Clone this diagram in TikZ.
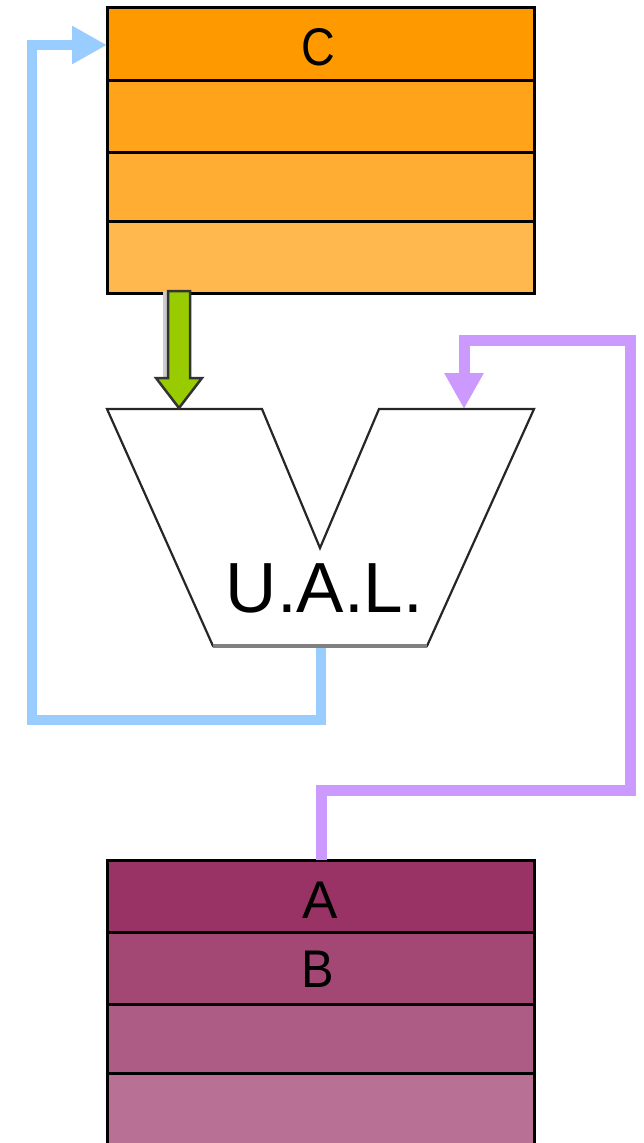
\documentclass[tikz,border=0pt]{standalone}
\usepackage{fontspec}
\setmainfont{Liberation Sans}
\usetikzlibrary{arrows.meta}

% register colours: base tone and lighter tints
\definecolor{orA}{RGB}{255,153,0}
\definecolor{orB}{RGB}{255,163,26}
\definecolor{orC}{RGB}{255,173,51}
\definecolor{orD}{RGB}{255,184,77}
\definecolor{puA}{RGB}{153,51,102}
\definecolor{puB}{RGB}{163,71,117}
\definecolor{puC}{RGB}{173,92,133}
\definecolor{puD}{RGB}{184,112,148}
\definecolor{busBlue}{RGB}{153,204,255}
\definecolor{busViolet}{RGB}{204,153,255}
\definecolor{busGreen}{RGB}{153,204,0}

\begin{document}
\begin{tikzpicture}[x=1pt,y=-1pt,
  regrow/.style={draw=black, line width=3pt, rectangle, anchor=north west,
    minimum width=427pt, inner sep=0pt, outer sep=0pt},
  reglabel/.style={inner sep=0pt, font=\fontsize{53pt}{53pt}\selectfont},
  bluebus/.style={draw=busBlue, line width=10pt,
    -{Triangle[length=35pt,width=36pt]}},
  violetbus/.style={draw=busViolet, line width=11pt,
    -{Triangle[length=36pt,width=37pt]}},
  fatarrow/.style={fill=busGreen, draw=black!80, line width=2.5pt, line join=miter},
]
\useasboundingbox (0,0) rectangle (643,1143);

% ---- accumulator C (top register file)
\node[regrow, fill=orA, minimum height=73pt] (c1) at (107,7) {};
\node[regrow, fill=orB, minimum height=72pt] (c2) at (107,80) {};
\node[regrow, fill=orC, minimum height=69pt] (c3) at (107,152) {};
\node[regrow, fill=orD, minimum height=72pt] (c4) at (107,221) {};
\node[reglabel, xscale=0.88] (tC) at (318,47) {C};

% ---- operand registers A and B (bottom register file)
\node[regrow, fill=puA, minimum height=72pt] (a1) at (107,860) {};
\node[regrow, fill=puB, minimum height=72pt] (a2) at (107,932) {};
\node[regrow, fill=puC, minimum height=69pt] (a3) at (107,1004) {};
\node[regrow, fill=puD, minimum height=80pt] (a4) at (107,1073) {};
\node[reglabel] (tA) at (320,900) {A};
\node[reglabel, xscale=0.92] (tB) at (318,969) {B};

% ---- ports of the arithmetic unit
\coordinate (inA) at (179,408);
\coordinate (inB) at (464,409);
\coordinate (out) at (321,646);

% result bus back to C
\coordinate (b1) at (321,720);
\coordinate (b2) at (32,720);
\coordinate (b3) at (32,45);
\coordinate (cIn) at (107,45);
\draw[bluebus] (out) -- (b1) -- (b2) -- (b3) -- (cIn);

% operand bus from A
\coordinate (p1) at (321,790);
\coordinate (p2) at (630,790);
\coordinate (p3) at (630,340);
\coordinate (p4) at (464,340);
\draw[violetbus] (a1.north -| p1) -- (p1) -- (p2) -- (p3) -- (p4) -- (inB);

% ---- U.A.L. body
\draw[fill=white, draw=black!85, line width=2.2pt, line join=miter]
  (107,409) -- (262,409) -- (320,548) -- (379,409) -- (534,409)
  -- (427,646) -- (213,646) -- cycle;
\draw[draw=black!50, line width=4.5pt] (213,646) -- (427,646);
\node[inner sep=0pt, font=\fontsize{71pt}{71pt}\selectfont] (ual) at (324.5,588) {U.A.L.};

% ---- transfer from C to the first input
\begin{scope}[shift={(inA)}]
  \fill[black!20] (-16,-117) rectangle (-12,-31);
  \draw[fatarrow] (-11,-117) -- (-11,-30) -- (-23,-30) -- (0,0)
    -- (23,-30) -- (11,-30) -- (11,-117) -- cycle;
\end{scope}
\end{tikzpicture}
\end{document}
